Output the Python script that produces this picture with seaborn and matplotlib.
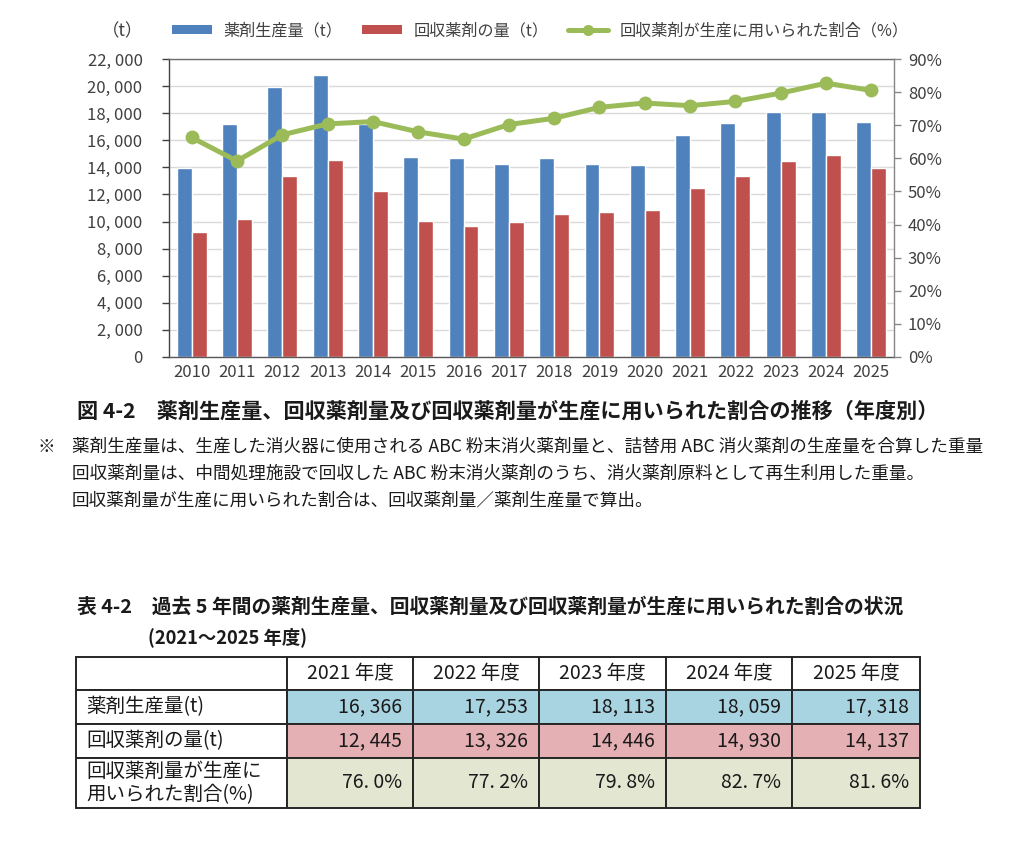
import numpy as np
import pandas as pd
import matplotlib
matplotlib.use("Agg")
import matplotlib.pyplot as plt
import seaborn as sns
from matplotlib.ticker import FuncFormatter, MultipleLocator
from matplotlib.lines import Line2D
from matplotlib.patches import Patch

# ---------------- data ----------------
years = [str(y) for y in range(2010, 2026)]
production = [13980, 17235, 19900, 20790, 17200, 14740, 14690, 14250,
              14720, 14250, 14150, 16366, 17253, 18113, 18059, 17318]
recovered = [9260, 10200, 13333, 14568, 12230, 10025, 9680, 9975,
             10593, 10740, 10864, 12445, 13326, 14446, 14930, 13930]
ratio_pct = [66.3, 59.2, 67.1, 70.4, 71.1, 68.0, 65.8, 70.2,
             72.1, 75.4, 76.7, 75.9, 77.2, 79.7, 82.7, 80.5]
series_names = ["薬剤生産量（t）", "回収薬剤の量（t）", "回収薬剤が生産に用いられた割合（%）"]
unit_label = "（t）"

figure_caption = "図 4-2　薬剤生産量、回収薬剤量及び回収薬剤量が生産に用いられた割合の推移（年度別）"
note_mark = "※"
note_lines = [
    "薬剤生産量は、生産した消火器に使用される ABC 粉末消火薬剤量と、詰替用 ABC 消火薬剤の生産量を合算した重量",
    "回収薬剤量は、中間処理施設で回収した ABC 粉末消火薬剤のうち、消火薬剤原料として再生利用した重量。",
    "回収薬剤量が生産に用いられた割合は、回収薬剤量／薬剤生産量で算出。",
]
table_caption = "表 4-2　過去 5 年間の薬剤生産量、回収薬剤量及び回収薬剤量が生産に用いられた割合の状況"
table_subcaption = "(2021～2025 年度)"
table_years = ["2021 年度", "2022 年度", "2023 年度", "2024 年度", "2025 年度"]
table_row_labels = ["薬剤生産量(t)", "回収薬剤の量(t)", "回収薬剤量が生産に\n用いられた割合(%)"]
table_production = [16366, 17253, 18113, 18059, 17318]
table_recovered = [12445, 13326, 14446, 14930, 14137]
table_ratio = [76.0, 77.2, 79.8, 82.7, 81.6]

# ---------------- style ----------------
BLUE = "#4F81BD"
RED = "#C0504D"
GREEN = "#9BBB59"
TXT = "#404040"
W, H = 1024, 848

sns.set_theme(style="white")
plt.rcParams["font.family"] = ["Noto Sans CJK JP", "DejaVu Sans"]

fig = plt.figure(figsize=(W / 100, H / 100), dpi=100)
fig.patch.set_facecolor("white")

def fx(px):
    return px / W

def fy(py):
    return 1 - py / H

# ---------------- chart ----------------
ax = fig.add_axes([fx(169), fy(357), fx(894) - fx(169), fy(59) - fy(357)])
df = pd.DataFrame({
    "年度": years * 2,
    "量": production + recovered,
    "系列": [series_names[0]] * len(years) + [series_names[1]] * len(years),
})
sns.barplot(data=df, x="年度", y="量", hue="系列", palette=[BLUE, RED],
            width=0.66, saturation=1, ax=ax, legend=False, zorder=2)
ax.set_xlim(-0.5, len(years) - 0.5)
ax.set_ylim(0, 22000)
ax.yaxis.set_major_locator(MultipleLocator(2000))
ax.yaxis.set_major_formatter(FuncFormatter(lambda v, p: f"{int(v):,}".replace(",", ", ")))
ax.grid(axis="y", color="#D9D9D9", lw=1, zorder=0)
ax.set_axisbelow(True)
ax.set_xlabel("")
ax.set_ylabel("")
ax.set_xticks(range(len(years)))
ax.set_xticklabels(years)
ax.set_xticks(np.arange(-0.5, len(years), 1), minor=True)
ax.tick_params(axis="x", which="major", length=0, pad=5, labelsize=12, labelcolor=TXT)
ax.tick_params(axis="x", which="minor", length=5, width=1, color="#595959", direction="out")
ax.tick_params(axis="y", length=5, width=1, color="#404040", direction="out",
               pad=14, labelsize=12, labelcolor=TXT, left=True)
for s in ["left", "bottom", "top"]:
    ax.spines[s].set_visible(True)
    ax.spines[s].set_linewidth(1)
ax.spines["left"].set_color("#404040")
ax.spines["bottom"].set_color("#595959")
ax.spines["top"].set_color("#6E6E6E")
ax.spines["right"].set_visible(False)

ax2 = ax.twinx()
sns.lineplot(x=np.arange(len(years)), y=ratio_pct, ax=ax2, color=GREEN, lw=3.6,
             marker="o", markersize=10, markeredgewidth=0, legend=False, zorder=5)
ax2.set_ylim(0, 90)
ax2.yaxis.set_major_locator(MultipleLocator(10))
ax2.yaxis.set_major_formatter(FuncFormatter(lambda v, p: f"{int(v)}%"))
ax2.tick_params(axis="y", length=5, width=1, color="#868686", direction="out",
                pad=5, labelsize=12, labelcolor=TXT, right=True)
ax2.set_ylabel("")
for s in ["left", "bottom", "top"]:
    ax2.spines[s].set_visible(False)
ax2.spines["right"].set_visible(True)
ax2.spines["right"].set_color("#868686")
ax2.spines["right"].set_linewidth(1)
ax2.grid(False)

# legend
fig.text(fx(123), fy(31), unit_label, ha="center", va="center", fontsize=12.5, color=TXT)
handles = [Patch(facecolor=BLUE, edgecolor="none"),
           Patch(facecolor=RED, edgecolor="none"),
           Line2D([0], [0], color=GREEN, lw=3.6, marker="o", markersize=8, markeredgewidth=0)]
fig.legend(handles, series_names, loc="center left", bbox_to_anchor=(fx(172), fy(31)),
           ncol=3, frameon=False, fontsize=11.6, handlelength=2.5, handleheight=0.45,
           handletextpad=0.7, columnspacing=1.2, labelcolor=TXT, borderaxespad=0,
           borderpad=0)

# ---------------- captions & notes ----------------
fig.text(fx(77), fy(411), figure_caption, ha="left", va="center", fontsize=15.2,
         fontweight="bold", color="#1A1A1A")
fig.text(fx(38), fy(447), note_mark, ha="left", va="center", fontsize=12.7, color="#1A1A1A")
for i, line in enumerate(note_lines):
    fig.text(fx(72), fy(447 + i * 26.5), line, ha="left", va="center", fontsize=12.7,
             color="#1A1A1A")

fig.text(fx(77), fy(607), table_caption, ha="left", va="center", fontsize=14.25,
         fontweight="bold", color="#1A1A1A")
fig.text(fx(148), fy(637), table_subcaption, ha="left", va="center", fontsize=13.2,
         fontweight="bold", color="#1A1A1A")

# ---------------- table ----------------
def fmt_int(v):
    return f"{v:,}".replace(",", ", ")

def fmt_pct(v):
    return f"{v:.1f}%".replace(".", ". ")

cell_text = [[""] + table_years,
             [table_row_labels[0]] + [fmt_int(v) for v in table_production],
             [table_row_labels[1]] + [fmt_int(v) for v in table_recovered],
             [table_row_labels[2]] + [fmt_pct(v) for v in table_ratio]]
row_fill = ["white", "#A8D3E0", "#E5B0B4", "#E3E7D2"]
cell_colours = [["white"] * 6] + [["white"] + [row_fill[r]] * 5 for r in range(1, 4)]

tx0, tx1, ty0, ty1 = 76, 920, 657, 808
ax_t = fig.add_axes([fx(tx0), fy(ty1), fx(tx1) - fx(tx0), fy(ty0) - fy(ty1)])
ax_t.axis("off")
col_w = [211, 126, 126, 127, 126, 128]
row_h = [33, 34.5, 34, 50.5]
tbl = ax_t.table(cellText=cell_text, cellColours=cell_colours, bbox=[0, 0, 1, 1],
                 cellLoc="center")
tbl.auto_set_font_size(False)
for (r, c), cell in tbl.get_celld().items():
    cell.set_width(col_w[c])
    cell.set_height(row_h[r])
    cell.set_edgecolor("#262626")
    cell.set_linewidth(1.4)
    t = cell.get_text()
    t.set_fontsize(14)
    t.set_color("#1A1A1A")
    if r > 0 and c == 0:
        cell._loc = "left"
        t.set_horizontalalignment("left")
        cell.PAD = 0.05
        t.set_linespacing(1.1)
    elif r > 0:
        cell._loc = "right"
        t.set_horizontalalignment("right")
        cell.PAD = 0.085

fig.savefig("out.png", dpi=100, facecolor="white")
